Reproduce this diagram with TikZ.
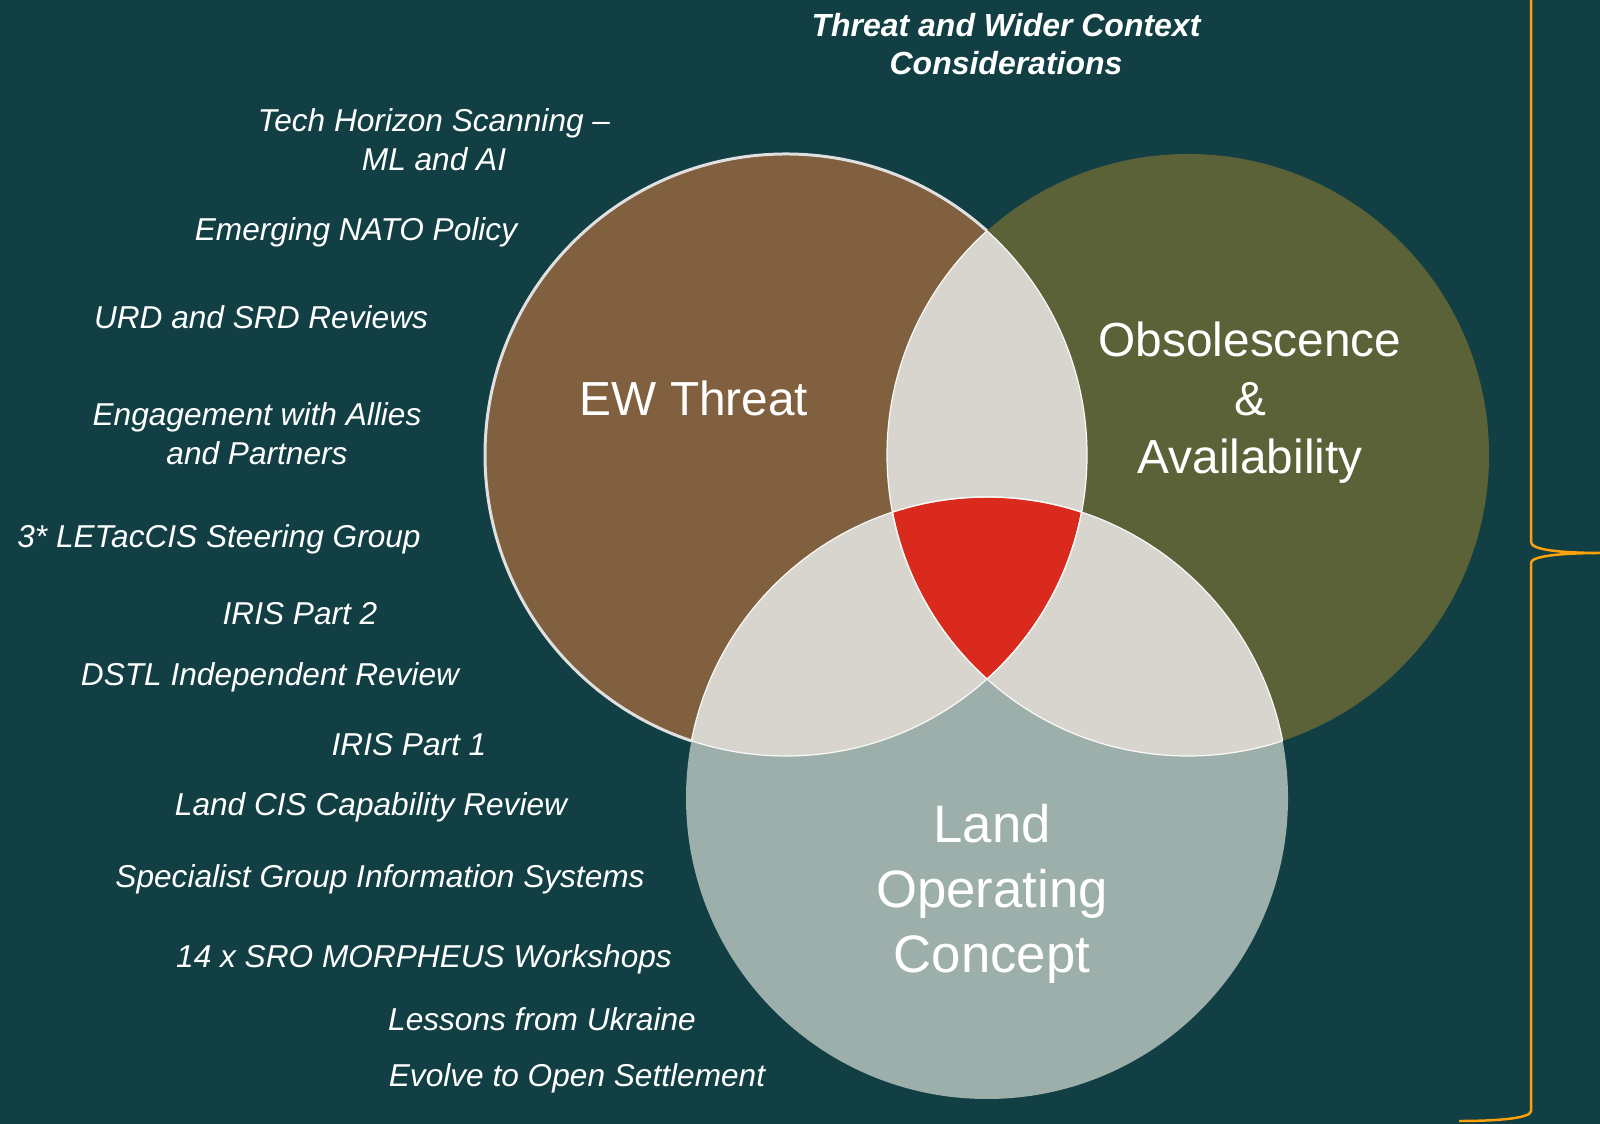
\documentclass[tikz,border=0pt]{standalone}
\usepackage{fontspec}
\setmainfont{Liberation Sans}
\usepackage{tikz}
\usepackage{xcolor}

\definecolor{bgteal}{HTML}{123F43}
\definecolor{ewbrown}{HTML}{80603F}
\definecolor{obsolive}{HTML}{5B6237}
\definecolor{landgrey}{HTML}{9DAFAA}
\definecolor{lensgrey}{HTML}{D8D4CE}
\definecolor{corered}{HTML}{DA291D}
\definecolor{braceorange}{HTML}{FFA10A}

\begin{document}
\begin{tikzpicture}[
    item/.style={text=white, align=center, font=\fontsize{9}{11}\selectfont\itshape},
    title/.style={text=white, align=center, font=\fontsize{9.1}{11}\selectfont\bfseries\itshape},
    setname/.style={text=white, align=center, font=\fontsize{13.6}{16.6}\selectfont},
    lens/.style={fill=lensgrey},
    seam/.style={draw=white!85!lensgrey, line width=.35pt}
  ]
  \useasboundingbox (0, 0) rectangle (16, 11.24);
  \fill[bgteal] (0, 0) rectangle (16, 11.24);

  \coordinate (ew) at (7.86, 6.69);
  \coordinate (obs) at (11.88, 6.69);
  \coordinate (land) at (9.87, 3.26);

  \fill[ewbrown, draw=white!88!black, line width=.85pt] (ew) circle (3.01);
  \fill[obsolive] (obs) circle (3.01);
  \fill[landgrey] (land) circle (3.01);

  \begin{scope}
    \clip (ew) circle (3.01);
    \fill[lens] (obs) circle (3.01);
    \fill[lens] (land) circle (3.01);
  \end{scope}
  \begin{scope}
    \clip (obs) circle (3.01);
    \fill[lens] (land) circle (3.01);
  \end{scope}
  \begin{scope}
    \clip (ew) circle (3.01);
    \clip (obs) circle (3.01);
    \fill[corered] (land) circle (3.01);
  \end{scope}

  \begin{scope}
    \clip (ew) circle (3.01);
    \draw[seam] (obs) circle (3.01);
    \draw[seam] (land) circle (3.01);
  \end{scope}
  \begin{scope}
    \clip (obs) circle (3.01);
    \draw[seam] (ew) circle (3.01);
    \draw[seam] (land) circle (3.01);
  \end{scope}
  \begin{scope}
    \clip (land) circle (3.01);
    \draw[seam] (ew) circle (3.01);
    \draw[seam] (obs) circle (3.01);
  \end{scope}

  \node[setname] (ewlabel) at (6.94, 7.26) {EW Threat};
  \node[setname] (obslabel) at (12.50, 7.21) {Obsolescence\\\&\\Availability};
  \node[setname, font=\fontsize{15}{18.5}\selectfont] (landlabel) at (9.92, 2.30) {Land\\Operating\\Concept};

  \node[title] (context) at (10.06, 10.80) {Threat and Wider Context\\Considerations};

  \node[item] (scan) at (4.34, 9.84) {Tech Horizon Scanning --\\ML and AI};
  \node[item] (nato) at (3.56, 8.92) {Emerging NATO Policy};
  \node[item] (urd) at (2.61, 8.07) {URD and SRD Reviews};
  \node[item] (allies) at (2.57, 6.90) {Engagement with Allies\\and Partners};
  \node[item] (steer) at (2.19, 5.85) {3* LETacCIS Steering Group};
  \node[item] (iris2) at (3.00, 5.10) {IRIS Part 2};
  \node[item] (dstl) at (2.70, 4.47) {DSTL Independent Review};
  \node[item] (iris1) at (4.09, 3.79) {IRIS Part 1};
  \node[item] (cisrev) at (3.71, 3.17) {Land CIS Capability Review};
  \node[item] (sgis) at (3.80, 2.45) {Specialist Group Information Systems};
  \node[item] (morph) at (4.24, 1.65) {14 x SRO MORPHEUS Workshops};
  \node[item] (ukr) at (5.42, 1.05) {Lessons from Ukraine};
  \node[item] (settle) at (5.77, 0.46) {Evolve to Open Settlement};

  \draw[braceorange, line width=.7pt]
    (15.31, 11.30) -- (15.31, 5.82)
    .. controls (15.31, 5.74) and (15.60, 5.71) .. (16.05, 5.71)
    .. controls (15.60, 5.71) and (15.31, 5.68) .. (15.31, 5.61)
    -- (15.31, 0.13)
    .. controls (15.31, 0.06) and (15.00, 0.03) .. (14.59, 0.03);
\end{tikzpicture}
\end{document}
